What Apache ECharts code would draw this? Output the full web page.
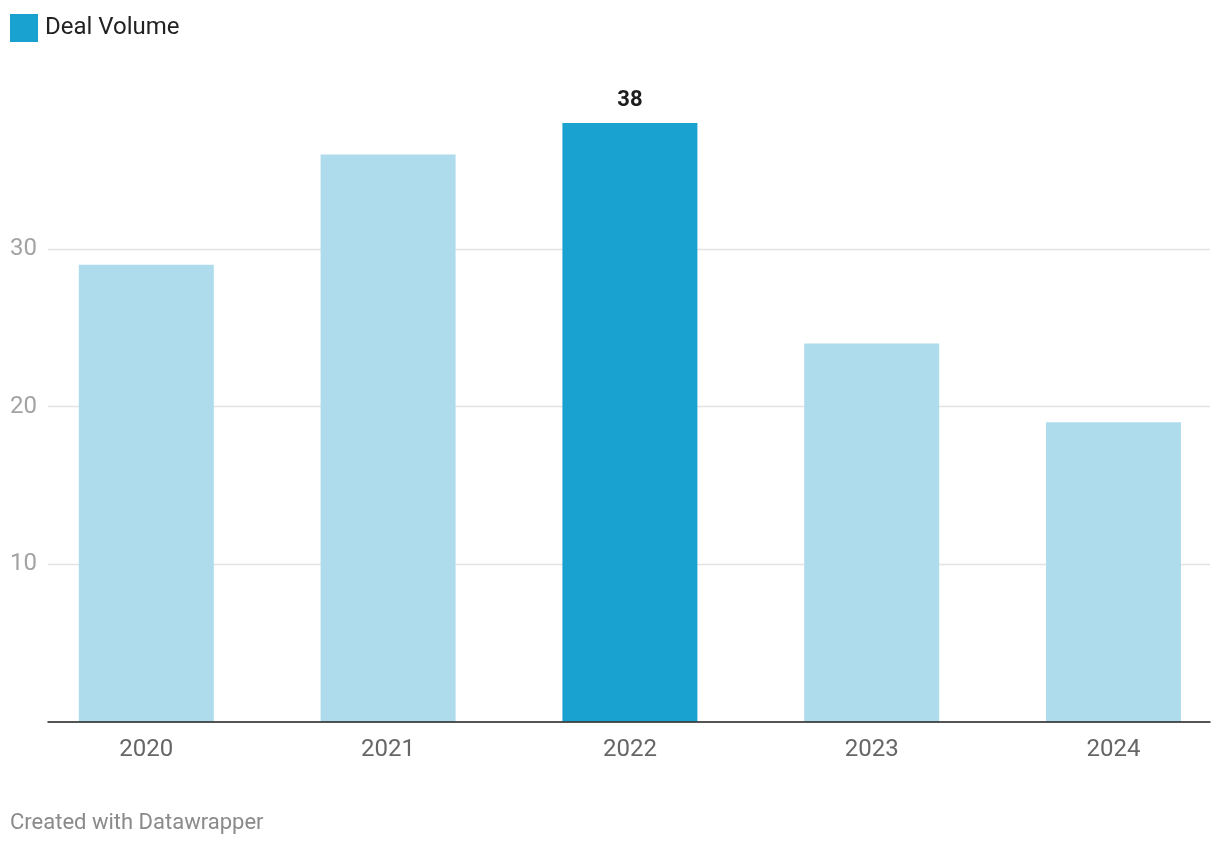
<!DOCTYPE html>
<html>
<head>
<meta charset="utf-8">
<title>Deal Volume</title>
<script src="https://cdn.jsdelivr.net/npm/echarts@6/dist/echarts.min.js"></script>
<style>
  html, body { margin: 0; padding: 0; background: #fff; }
  #chart { width: 1220px; height: 846px; }
</style>
</head>
<body>
<div id="chart"></div>
<script>
// data
const years = ['2020', '2021', '2022', '2023', '2024']
const dealVolume = [29, 36, 38, 24, 19]
const highlightYear = '2022'
const yTicks = [0, 10, 20, 30, 40]

const FONT = 'Roboto, "Noto Sans", sans-serif'
const LIGHT = '#aedcec'
const DARK = '#19a2cf'

let chart = echarts.init(document.getElementById('chart'))

// bars: only the highlighted year gets the dark colour and a label
let barData = dealVolume.map((v, i) => {
    if (years[i] === highlightYear) {
        return {
            value: v,
            itemStyle: {color: DARK},
            label: {
                show: true,
                position: 'top',
                distance: 12,
                fontFamily: FONT,
                fontSize: 22,
                fontWeight: 'bold',
                color: '#1d1d1d'
            }
        }
    }
    return {value: v, itemStyle: {color: LIGHT}}
})

let option = {
    animation: false,
    textStyle: {fontFamily: FONT},
    legend: {
        left: 10,
        top: 14,
        padding: 0,
        icon: 'rect',
        itemWidth: 28,
        itemHeight: 28,
        textStyle: {fontSize: 24, color: '#222', fontFamily: FONT, padding: [0, 0, 0, 2]},
        data: ['Deal Volume']
    },
    // grid 0 holds the bars (its band runs a little past the right edge),
    // grid 1 the gridlines, y labels and baseline
    grid: [
        {left: 25.4, width: 1209, top: 91.5, bottom: 124.5, outerBoundsMode: 'none', containLabel: false},
        {left: 48, right: 10, top: 91.5, bottom: 124.5, outerBoundsMode: 'none', containLabel: false}
    ],
    xAxis: [
        {
            type: 'category',
            gridIndex: 0,
            data: years,
            axisLine: {show: false},
            axisTick: {show: false},
            axisLabel: {
                margin: 16,
                fontSize: 24,
                color: '#666',
                fontFamily: FONT
            }
        },
        {
            type: 'value',
            gridIndex: 1,
            min: 0,
            max: 1,
            z: 10,
            axisLine: {show: true, lineStyle: {color: '#1d1d1d', width: 1.5}},
            axisTick: {show: false},
            axisLabel: {show: false},
            splitLine: {show: false}
        }
    ],
    yAxis: [
        {
            type: 'value',
            gridIndex: 0,
            min: yTicks[0],
            max: yTicks[yTicks.length - 1],
            show: false
        },
        {
            type: 'value',
            gridIndex: 1,
            min: yTicks[0],
            max: yTicks[yTicks.length - 1],
            interval: 10,
            axisLine: {show: false},
            axisTick: {show: false},
            axisLabel: {
                showMinLabel: false,
                showMaxLabel: false,
                align: 'left',
                margin: 38,
                fontSize: 24,
                color: '#a3a3a3',
                fontFamily: FONT
            },
            splitLine: {
                show: true,
                showMinLine: false,
                showMaxLine: false,
                lineStyle: {color: '#e3e3e3', width: 1.3}
            }
        }
    ],
    series: [{
        name: 'Deal Volume',
        type: 'bar',
        xAxisIndex: 0,
        yAxisIndex: 0,
        barWidth: 135,
        itemStyle: {color: DARK},
        data: barData
    }],
    graphic: [{
        type: 'text',
        left: 10,
        top: 812,
        style: {
            text: 'Created with Datawrapper',
            fontFamily: FONT,
            fontSize: 22,
            fill: '#8a8a8a'
        }
    }]
}

chart.setOption(option)
window.addEventListener('resize', () => {
    chart.resize()
})
</script>
</body>
</html>
